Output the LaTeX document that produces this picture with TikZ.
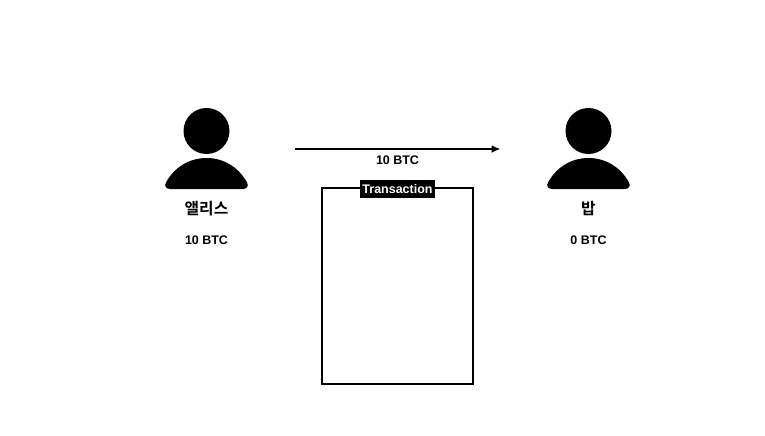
\documentclass[tikz,border=0pt]{standalone}
\usepackage{fontspec}
\setmainfont{Liberation Sans}
\newfontfamily\krfont{Noto Sans CJK KR}[BoldFont={* Bold}]
\usetikzlibrary{positioning,arrows.meta}
\tikzset{
  amount/.style={font=\fontsize{7.1}{8}\selectfont\bfseries, inner sep=0pt},
  username/.style={font=\fontsize{9}{10}\selectfont\krfont\bfseries, inner sep=0pt},
  person/.pic={
    \fill (0, -27) circle (23);
    \fill (-36, 31) -- (36, 31)
      .. controls (40.5, 31) and (42.5, 28) .. (40.5, 24.5)
      .. controls (32, 9) and (17, 0) .. (0, 0)
      .. controls (-17, 0) and (-32, 9) .. (-40.5, 24.5)
      .. controls (-42.5, 28) and (-40.5, 31) .. (-36, 31) -- cycle;
  }
}

\begin{document}
\begin{tikzpicture}[x=0.02cm, y=-0.02cm]
  \useasboundingbox (0, 0) rectangle (765, 436);
  \pic at (206.5, 158) {person};
  \pic at (588.5, 158) {person};
  \node[username] (alice) at (206.5, 208.5) {앨리스};
  \node[amount] (alicebtc) at (206.5, 240) {10 BTC};
  \node[username] (bob) at (588.5, 208.5) {밥};
  \node[amount] (bobbtc) at (588.5, 240) {0 BTC};

  \coordinate (from) at (295, 149);
  \coordinate (to) at (500.5, 149);
  \draw[line width=0.95pt, -{Latex[length=5pt, width=4.4pt]}] (from) -- (to);
  \node[amount] (sent) at (397.5, 160.5) {10 BTC};

  \draw[line width=0.95pt] (322, 188.1) rectangle (473, 384);
  \node[amount, fill=black, text=white, minimum width=75*0.02cm, minimum height=18*0.02cm]
    (tx) at (397.5, 189) {Transaction};
\end{tikzpicture}
\end{document}
